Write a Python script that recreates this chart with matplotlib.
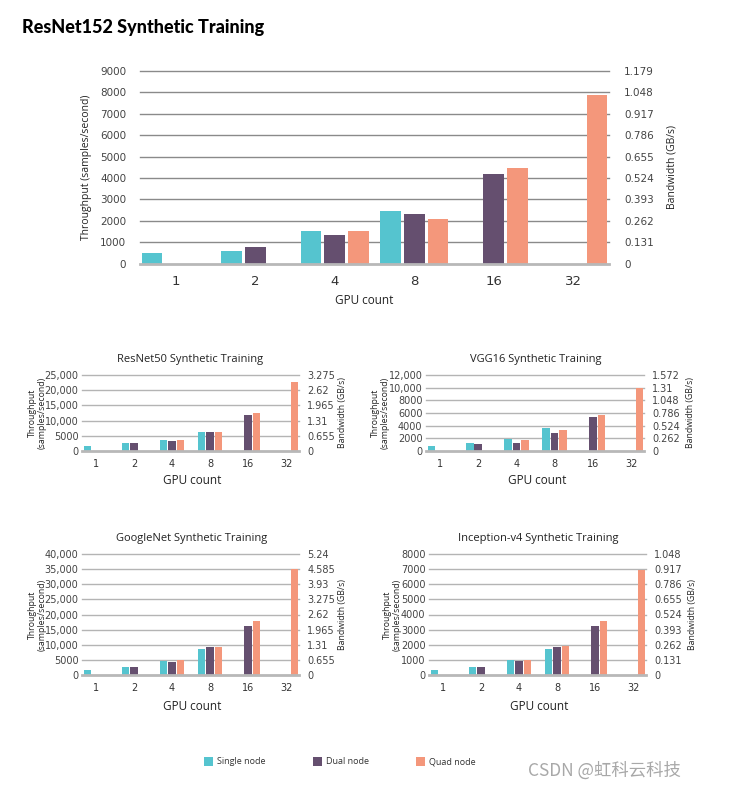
import matplotlib
matplotlib.use('Agg')
import matplotlib.pyplot as plt
import numpy as np
from matplotlib.patches import Rectangle

W, H = 738, 789
nan = np.nan

gpu_counts = ['1', '2', '4', '8', '16', '32']
series_names = ['Single node', 'Dual node', 'Quad node']
series_colors = ['#55C4CF', '#654F6F', '#F4977B']

# ResNet152 (main chart)
resnet152_single = [500, 600, 1520, 2440, nan, nan]
resnet152_dual = [nan, 770, 1330, 2310, 4200, nan]
resnet152_quad = [nan, nan, 1520, 2090, 4450, 7860]
resnet152_yticks = [0, 1000, 2000, 3000, 4000, 5000, 6000, 7000, 8000, 9000]
resnet152_ylabels = ['0', '1000', '2000', '3000', '4000', '5000', '6000', '7000', '8000', '9000']
resnet152_bw = ['0', '0.131', '0.262', '0.393', '0.524', '0.655', '0.786', '0.917', '1.048', '1.179']

# ResNet50
resnet50_single = [1650, 2750, 3630, 6280, nan, nan]
resnet50_dual = [nan, 2750, 3200, 6280, 11900, nan]
resnet50_quad = [nan, nan, 3630, 6280, 12550, 22600]
resnet50_yticks = [0, 5000, 10000, 15000, 20000, 25000]
resnet50_ylabels = ['0', '5000', '10,000', '15,000', '20,000', '25,000']
resnet50_bw = ['0', '0.655', '1.31', '1.965', '2.62', '3.275']

# VGG16
vgg16_single = [790, 1320, 1850, 3650, nan, nan]
vgg16_dual = [nan, 1160, 1320, 2860, 5400, nan]
vgg16_quad = [nan, nan, 1750, 3390, 5710, 9950]
vgg16_yticks = [0, 2000, 4000, 6000, 8000, 10000, 12000]
vgg16_ylabels = ['0', '2000', '4000', '6000', '8000', '10,000', '12,000']
vgg16_bw = ['0', '0.262', '0.524', '0.786', '1.048', '1.31', '1.572']

# GoogleNet
googlenet_single = [1540, 2750, 4740, 8480, nan, nan]
googlenet_dual = [nan, 2750, 4410, 9370, 16200, nan]
googlenet_quad = [nan, nan, 4850, 9370, 17960, 35000]
googlenet_yticks = [0, 5000, 10000, 15000, 20000, 25000, 30000, 35000, 40000]
googlenet_ylabels = ['0', '5000', '10,000', '15,000', '20,000', '25,000', '30,000', '35,000', '40,000']
googlenet_bw = ['0', '0.655', '1.31', '1.965', '2.62', '3.275', '3.93', '4.585', '5.24']

# Inception-v4
inception_single = [330, 505, 967, 1714, nan, nan]
inception_dual = [nan, 505, 900, 1846, 3250, nan]
inception_quad = [nan, nan, 1010, 1890, 3600, 6920]
inception_yticks = [0, 1000, 2000, 3000, 4000, 5000, 6000, 7000, 8000]
inception_ylabels = ['0', '1000', '2000', '3000', '4000', '5000', '6000', '7000', '8000']
inception_bw = ['0', '0.131', '0.262', '0.393', '0.524', '0.655', '0.786', '0.917', '1.048']

TICK_FONT = ['Liberation Sans Narrow', 'DejaVu Sans']
TEXT_FONT = ['Open Sans', 'DejaVu Sans']

plt.rcParams['font.family'] = TEXT_FONT

fig = plt.figure(figsize=(W / 100, H / 100), dpi=100)
fig.patch.set_facecolor('white')


def fx(x):
    return x / W


def fy(y):
    return 1 - y / H


def draw_chart(box, data, yticks, ylabels, bwlabels, main=False):
    l, t, r, b = box
    ax = fig.add_axes([fx(l), fy(b), (r - l) / W, (b - t) / H])
    x = np.arange(len(gpu_counts))
    if main:
        width, off, xlim = 0.26, 0.30, (-0.45, 5.45)
        tfs, xfs, grid_c = 7.5, 9.5, '#8a8a8a'
        lpad, rpad, xpad = 10, 11, 8
    else:
        width, off, xlim = 0.20, 0.225, (-0.37, 5.34)
        tfs, xfs, grid_c = 7, 7, '#b4b4b4'
        lpad, rpad, xpad = 2.5, 6, 6
    for i, vals in enumerate(data):
        v = np.array(vals, dtype=float)
        m = ~np.isnan(v)
        ax.bar(x[m] + (i - 1) * off, v[m], width=width, color=series_colors[i],
               zorder=2, linewidth=0)
    ax.set_xlim(*xlim)
    ax.set_ylim(0, yticks[-1])
    for yt in yticks[1:]:
        ax.axhline(yt, color=grid_c, lw=1.0, zorder=1, clip_on=False)
    ax.axhline(0, color='#b8b8b8', lw=2.0, zorder=3, clip_on=False)
    for s in ax.spines.values():
        s.set_visible(False)
    ax.set_yticks(yticks)
    ax.set_yticklabels(ylabels, family=TICK_FONT, fontsize=tfs, color='#444444')
    ax.set_xticks(x)
    ax.set_xticklabels(gpu_counts, family=TICK_FONT, fontsize=xfs, color='#333333')
    ax.tick_params(axis='y', length=0, pad=lpad)
    ax.tick_params(axis='x', length=0, pad=xpad)
    ax2 = ax.twinx()
    ax2.set_ylim(ax.get_ylim())
    ax2.set_yticks(yticks)
    ax2.set_yticklabels(bwlabels, family=TICK_FONT, fontsize=tfs, color='#444444')
    ax2.tick_params(axis='y', length=0, pad=rpad)
    for s in ax2.spines.values():
        s.set_visible(False)
    ax.set_facecolor('none')
    return ax


# Main chart
draw_chart((140, 71, 609, 263.5),
           [resnet152_single, resnet152_dual, resnet152_quad],
           resnet152_yticks, resnet152_ylabels, resnet152_bw, main=True)
fig.text(fx(22), fy(28), 'ResNet152 Synthetic Training', fontsize=13,
         fontweight='black', family=['Lato', 'DejaVu Sans'], va='center', ha='left')
fig.text(fx(364), fy(301), 'GPU count', fontsize=8.5, ha='center', va='center', color='#222222')
fig.text(fx(87), fy(167), 'Throughput (samples/second)', fontsize=7.5, rotation=90,
         ha='center', va='center', color='#222222')
fig.text(fx(672), fy(167), 'Bandwidth (GB/s)', fontsize=7.5, rotation=90,
         ha='center', va='center', color='#222222')

small = [
    ('ResNet50 Synthetic Training', (82, 375, 299, 451), 190, 359, 481, 37, 342,
     [resnet50_single, resnet50_dual, resnet50_quad], resnet50_yticks, resnet50_ylabels, resnet50_bw),
    ('VGG16 Synthetic Training', (426, 375, 644, 451), 536, 359, 481, 380, 690,
     [vgg16_single, vgg16_dual, vgg16_quad], vgg16_yticks, vgg16_ylabels, vgg16_bw),
    ('GoogleNet Synthetic Training', (82, 554, 299, 675), 192, 539, 707, 37, 343,
     [googlenet_single, googlenet_dual, googlenet_quad], googlenet_yticks, googlenet_ylabels, googlenet_bw),
    ('Inception-v4 Synthetic Training', (429, 554, 646, 675), 538, 539, 707, 392, 692,
     [inception_single, inception_dual, inception_quad], inception_yticks, inception_ylabels, inception_bw),
]

for title, box, tx, ty, gy, lx, rx, data, yt, yl, bw in small:
    draw_chart(box, data, yt, yl, bw)
    l, t, r, b = box
    fig.text(fx(tx), fy(ty), title, fontsize=8, ha='center', va='center', color='#222222')
    fig.text(fx((l + r) / 2 + 2), fy(gy), 'GPU count', fontsize=8.5, ha='center', va='center', color='#222222')
    fig.text(fx(lx), fy((t + b) / 2), 'Throughput\n(samples/second)', fontsize=6.3, rotation=90,
             ha='center', va='center', color='#222222', linespacing=1.1)
    fig.text(fx(rx), fy((t + b) / 2), 'Bandwidth (GB/s)', fontsize=6.3, rotation=90,
             ha='center', va='center', color='#222222')

# Legend
legend_x = [204, 313, 416]
for xq, name, c in zip(legend_x, series_names, series_colors):
    fig.patches.append(Rectangle((fx(xq), fy(766)), 9 / W, 9 / H, transform=fig.transFigure,
                                 facecolor=c, edgecolor='none'))
    fig.text(fx(xq + 13), fy(762), name, fontsize=6.5, ha='left', va='center', color='#333333')

fig.text(fx(528), fy(771), 'CSDN @虹科云科技', fontsize=12.5, ha='left', va='center',
         color='#a8a8a8', family=['Noto Sans CJK SC', 'DejaVu Sans'])

fig.savefig('out.png', dpi=100, facecolor='white')
